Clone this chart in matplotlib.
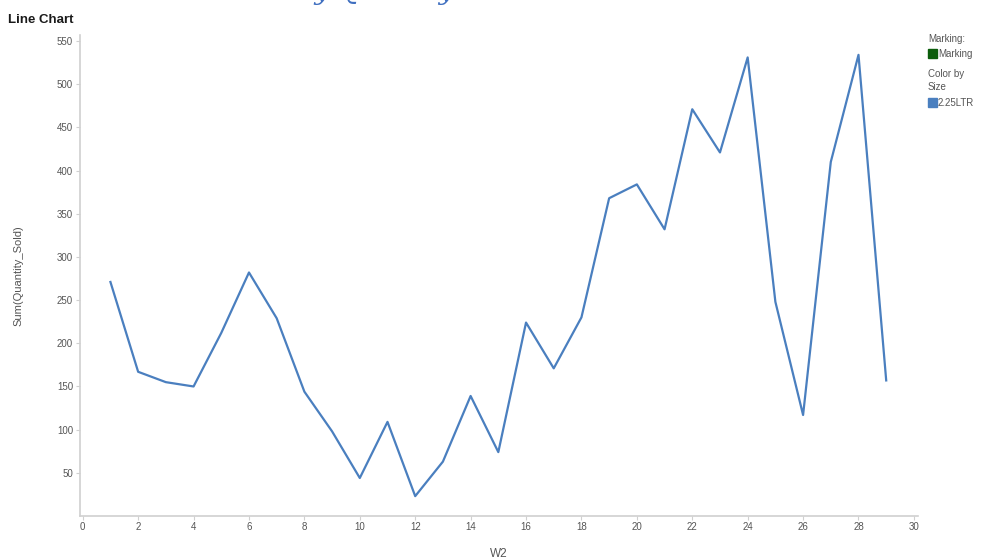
import matplotlib.pyplot as plt
from matplotlib.patches import Rectangle

plt.rcParams['font.family'] = ['Liberation Sans', 'DejaVu Sans']

# weekly totals for the 2.25LTR size
weeks: list[int] = list(range(1, 30))
qty_sold: list[int] = [271, 167, 155, 150, 212, 282, 229, 144, 98, 44,
                       109, 23, 63, 139, 74, 224, 171, 230, 368, 384,
                       332, 471, 421, 531, 248, 117, 410, 534, 157]

x_ticks: list[int] = list(range(0, 31, 2))
y_ticks: list[int] = list(range(50, 551, 50))

line_color = '#4a7fbf'
axis_color = '#d0d0d0'
text_color = '#555555'

fig = plt.figure(figsize=(9.86, 5.59), dpi=100)
ax = fig.add_axes([0.0811, 0.0769, 0.85, 0.8605])

ax.plot(weeks, qty_sold, color=line_color, linewidth=1.6)

ax.set_xlim(-0.1, 30.15)
ax.set_ylim(0, 557)
ax.set_xticks(x_ticks)
ax.set_yticks(y_ticks)

for side in ['top', 'right']:
    ax.spines[side].set_visible(False)
for side in ['left', 'bottom']:
    ax.spines[side].set_color(axis_color)
    ax.spines[side].set_linewidth(1.2)
ax.tick_params(axis='both', colors=axis_color, labelcolor=text_color,
               labelsize=7, length=3, width=0.8)
ax.tick_params(axis='x', pad=1.5)
ax.tick_params(axis='y', pad=2)

ax.set_xlabel('W2', fontsize=8.5, color=text_color, labelpad=11)
ax.set_ylabel('Sum(Quantity_Sold)', fontsize=8, color=text_color, labelpad=24)

# heading, and the caption sitting above the top edge
fig.text(8 / 986, 1 - 23 / 559, 'Line Chart', fontsize=9.5,
         fontweight='bold', color='#1a1a1a')
fig.text(0.237, 1.0, 'Weekly Quantity Sold', fontsize=19, color='#3f6fc0',
         family='DejaVu Serif', style='italic', va='baseline')

# side legend
lx = 928 / 986
fig.text(lx, 1 - 42 / 559, 'Marking:', fontsize=7, color=text_color)
fig.patches.append(Rectangle((lx, 1 - 58 / 559), 9 / 986, 9 / 559,
                             transform=fig.transFigure, color='#0b5d0b'))
fig.text(lx + 10 / 986, 1 - 57 / 559, 'Marking', fontsize=7, color=text_color)
fig.text(lx, 1 - 77 / 559, 'Color by', fontsize=7, color=text_color)
fig.text(lx, 1 - 90 / 559, 'Size', fontsize=7, color=text_color)
fig.patches.append(Rectangle((lx, 1 - 107 / 559), 9 / 986, 9 / 559,
                             transform=fig.transFigure, color=line_color))
fig.text(lx + 10 / 986, 1 - 106 / 559, '2.25LTR', fontsize=7, color=text_color)

fig.savefig('out.png', dpi=100)
